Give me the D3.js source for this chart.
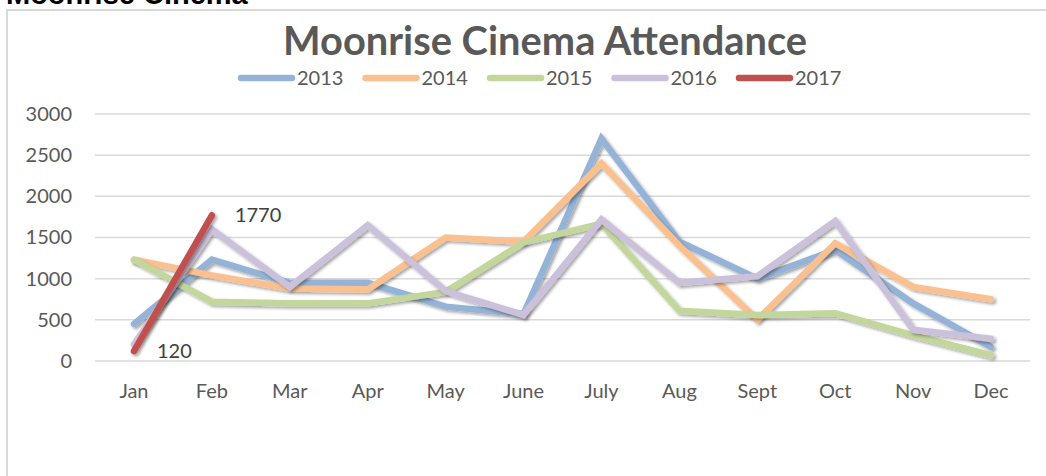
<!DOCTYPE html>
<html>
<head>
<meta charset="utf-8">
<script src="https://cdn.jsdelivr.net/npm/d3@7"></script>
<style>
    body { margin: 0; background: #fff; }
    svg { display: block; }
</style>
</head>
<body>
<script>
// Chart data
const months = ["Jan", "Feb", "Mar", "Apr", "May", "June", "July", "Aug", "Sept", "Oct", "Nov", "Dec"];
const years = ["2013", "2014", "2015", "2016", "2017"];
const att2013 = [450, 1230, 950, 950, 660, 570, 2700, 1450, 1000, 1350, 700, 170];
const att2014 = [1230, 1040, 880, 870, 1500, 1450, 2400, 1400, 500, 1430, 900, 750];
const att2015 = [1230, 720, 700, 700, 840, 1440, 1670, 610, 560, 580, 310, 70];
const att2016 = [200, 1600, 900, 1650, 850, 560, 1720, 950, 1030, 1700, 380, 270];
const att2017 = [120, 1770];
const yTicks = [0, 500, 1000, 1500, 2000, 2500, 3000];

const seriesValues = [att2013, att2014, att2015, att2016, att2017];
const colors = ["#95B3D7", "#FAC090", "#C3D69B", "#CCC1DA", "#C0504D"];

const width = 1046, height = 476;
const textColor = "#595959";
const font = "Lato, 'Open Sans', sans-serif";

const svg = d3.select("body")
    .append("svg")
    .attr("width", width)
    .attr("height", height);

// drop shadow for lines
const defs = svg.append("defs");
defs.append("filter")
    .attr("id", "shadow")
    .attr("x", "-10%").attr("y", "-10%")
    .attr("width", "120%").attr("height", "120%")
    .append("feDropShadow")
    .attr("dx", 2).attr("dy", 2)
    .attr("stdDeviation", 1.8)
    .attr("flood-color", "#000")
    .attr("flood-opacity", 0.35);

// sheet heading, cut off at the top like in the screenshot
svg.append("text")
    .attr("x", 6)
    .attr("y", 4)
    .style("font-family", "'Liberation Sans', Arial, sans-serif")
    .style("font-weight", "bold")
    .style("font-size", "29px")
    .style("fill", "#000")
    .text("Moonrise Cinema");

// chart frame
svg.append("path")
    .attr("d", `M7,${height} V10 H${width}`)
    .attr("fill", "none")
    .attr("stroke", "#D9D9D9")
    .attr("stroke-width", 2);

// title
svg.append("text")
    .attr("x", 545)
    .attr("y", 55)
    .attr("text-anchor", "middle")
    .attr("textLength", 524)
    .attr("lengthAdjust", "spacingAndGlyphs")
    .style("font-family", font)
    .style("font-weight", "bold")
    .style("font-size", "40px")
    .style("fill", textColor)
    .text("Moonrise Cinema Attendance");

// scales
const x = d3.scaleBand()
    .domain(months)
    .range([95, 1030]);

const y = d3.scaleLinear()
    .domain([0, 3000])
    .range([361, 114]);

// gridlines
svg.append("g")
    .selectAll("line")
    .data(yTicks)
    .enter()
    .append("line")
    .attr("x1", 95)
    .attr("x2", 1030)
    .attr("y1", d => y(d))
    .attr("y2", d => y(d))
    .attr("stroke", "#D9D9D9")
    .attr("stroke-width", 1.5);

// y axis labels
const yAxis = svg.append("g")
    .attr("transform", "translate(82,0)")
    .call(d3.axisLeft(y).tickValues(yTicks).tickFormat(d3.format("d")).tickSize(0).tickPadding(10));
yAxis.select(".domain").remove();
yAxis.selectAll("text")
    .style("font-family", font)
    .style("font-size", "20px")
    .style("fill", textColor);

// x axis labels
const xAxis = svg.append("g")
    .attr("transform", "translate(0,361)")
    .call(d3.axisBottom(x).tickSize(0).tickPadding(23));
xAxis.select(".domain").remove();
xAxis.selectAll("text")
    .style("font-family", font)
    .style("font-size", "20px")
    .style("fill", textColor);

// lines
const line = d3.line()
    .x((d, i) => x(months[i]) + x.bandwidth() / 2)
    .y(d => y(d));

seriesValues.forEach(function(vals, i) {
    svg.append("path")
        .datum(vals)
        .attr("d", line)
        .attr("fill", "none")
        .attr("stroke", colors[i])
        .attr("stroke-width", 6.5)
        .attr("stroke-linejoin", "miter")
        .attr("stroke-linecap", "round")
        .attr("filter", "url(#shadow)");
});

// data labels for 2017
svg.append("g")
    .selectAll("text")
    .data(att2017)
    .enter()
    .append("text")
    .attr("x", (d, i) => x(months[i]) + x.bandwidth() / 2 + 23)
    .attr("y", d => y(d))
    .attr("dy", "0.35em")
    .style("font-family", font)
    .style("font-size", "20px")
    .style("fill", "#404040")
    .text(d => d);

// legend
const legend = svg.append("g")
    .selectAll("g")
    .data(years)
    .enter()
    .append("g")
    .attr("transform", (d, i) => `translate(${238 + i * 124.5},78)`);

legend.append("line")
    .attr("x1", 3)
    .attr("x2", 54)
    .attr("stroke", (d, i) => colors[i])
    .attr("stroke-width", 6.5)
    .attr("stroke-linecap", "round");

legend.append("text")
    .attr("x", 59)
    .attr("y", 7)
    .style("font-family", font)
    .style("font-size", "20px")
    .style("fill", textColor)
    .text(d => d);
</script>
</body>
</html>
